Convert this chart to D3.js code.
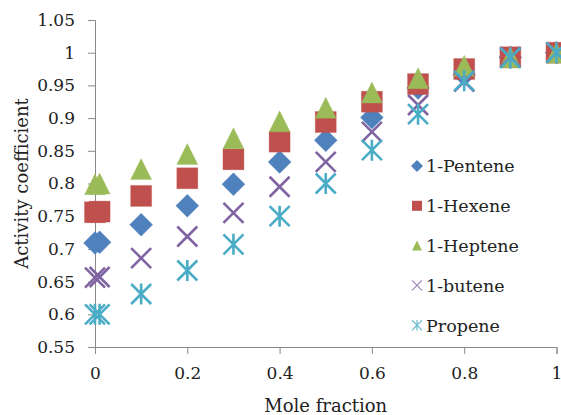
<!DOCTYPE html>
<html>
<head>
<meta charset="utf-8">
<script src="https://cdn.jsdelivr.net/npm/d3@7"></script>
<style>
  html, body { margin: 0; padding: 0; background: #fff; }
  svg { display: block; }
  text { font-family: "DejaVu Serif", serif; fill: #222; }
</style>
</head>
<body>
<svg id="chart" width="561" height="415"></svg>
<script>
// Mole fraction values (x) and activity coefficients per olefin
const moleFraction = [0, 0.01, 0.1, 0.2, 0.3, 0.4, 0.5, 0.6, 0.7, 0.8, 0.9, 1.0];
const pentene = [0.709, 0.710, 0.737, 0.766, 0.799, 0.833, 0.866, 0.901, 0.946, 0.966, 0.993, 1.0];
const hexene  = [0.756, 0.757, 0.781, 0.808, 0.837, 0.864, 0.894, 0.925, 0.952, 0.975, 0.993, 1.0];
const heptene = [0.799, 0.800, 0.822, 0.845, 0.869, 0.895, 0.916, 0.939, 0.961, 0.980, 0.993, 1.0];
const butene  = [0.656, 0.657, 0.686, 0.719, 0.755, 0.795, 0.833, 0.879, 0.920, 0.956, 0.993, 1.0];
const propene = [0.600, 0.600, 0.631, 0.667, 0.707, 0.750, 0.800, 0.851, 0.906, 0.957, 0.992, 1.0];

const seriesNames = ["1-Pentene", "1-Hexene", "1-Heptene", "1-butene", "Propene"];
const seriesValues = [pentene, hexene, heptene, butene, propene];
const seriesColors = ["#4F81BD", "#C0504D", "#9BBB59", "#8064A2", "#4BACC6"];
const seriesShapes = ["diamond", "square", "triangle", "cross", "star"];

const xTicks = [0, 0.2, 0.4, 0.6, 0.8, 1];
const yTicks = [0.55, 0.6, 0.65, 0.7, 0.75, 0.8, 0.85, 0.9, 0.95, 1, 1.05];

const svg = d3.select("#chart");
const x = d3.scaleLinear().domain([0, 1]).range([95, 556.5]);
const y = d3.scaleLinear().domain([0.55, 1.05]).range([347, 20]);

// Marker path for a given shape and size (s = full width)
function markerPath(shape, s) {
  const h = s / 2;
  switch (shape) {
    case "diamond": return `M0,${-h}L${h},0L0,${h}L${-h},0Z`;
    case "square": return `M${-h},${-h}H${h}V${h}H${-h}Z`;
    case "triangle": return `M0,${-h}L${h},${h}L${-h},${h}Z`;
    case "cross": return `M${-h},${-h}L${h},${h}M${h},${-h}L${-h},${h}`;
    case "star": return `M${-h},${-h}L${h},${h}M${h},${-h}L${-h},${h}M0,${-h * 1.05}V${h * 1.05}`;
  }
}
const filled = s => s === "diamond" || s === "square" || s === "triangle";
const plotSize = { diamond: 23, square: 21, triangle: 21, cross: 20, star: 20 };
const legendSize = { diamond: 12, square: 10, triangle: 10, cross: 10, star: 10 };

// Axes
const axisColor = "#8a8a8a";
const yAxis = svg.append("g")
  .attr("transform", `translate(${x(0)},0)`)
  .call(d3.axisLeft(y).tickValues(yTicks).tickSize(7).tickPadding(13)
    .tickFormat(d => d3.format("")(+d.toFixed(2))));
const xAxis = svg.append("g")
  .attr("transform", `translate(0,${y(0.55)})`)
  .call(d3.axisBottom(x).tickValues(xTicks).tickSize(7).tickPadding(13)
    .tickFormat(d => d3.format("")(+d.toFixed(1))));
[xAxis, yAxis].forEach(g => {
  g.select(".domain").attr("stroke", axisColor).attr("stroke-width", 1);
  g.selectAll(".tick line").attr("stroke", axisColor);
  g.selectAll(".tick text")
    .style("font-family", '"DejaVu Serif", serif')
    .style("font-size", "17px")
    .attr("fill", "#222");
  g.attr("font-family", null).attr("font-size", null);
});

// Data markers, series drawn in order
seriesValues.forEach((vals, i) => {
  const shape = seriesShapes[i];
  const color = seriesColors[i];
  svg.append("g").selectAll("path")
    .data(moleFraction.map((m, j) => [m, vals[j]]))
    .join("path")
    .attr("transform", d => `translate(${x(d[0])},${y(d[1])})`)
    .attr("d", markerPath(shape, plotSize[shape]))
    .attr("fill", filled(shape) ? color : "none")
    .attr("stroke", color)
    .attr("stroke-width", filled(shape) ? 0.6 : 2.6)
    .attr("stroke-opacity", filled(shape) ? 0.5 : 1);
});

// Legend
const legend = svg.append("g");
seriesNames.forEach((name, i) => {
  const cy = 166 + i * 39.8;
  const shape = seriesShapes[i];
  legend.append("path")
    .attr("transform", `translate(417,${cy})`)
    .attr("d", markerPath(shape, legendSize[shape]))
    .attr("fill", filled(shape) ? seriesColors[i] : "none")
    .attr("stroke", seriesColors[i])
    .attr("stroke-width", filled(shape) ? 0 : 1.3)
    .attr("stroke-opacity", filled(shape) ? 0 : 0.75);
  legend.append("text")
    .attr("x", 426)
    .attr("y", cy)
    .attr("dy", "0.36em")
    .style("font-size", "17.5px")
    .text(name);
});

// Axis titles
svg.append("text")
  .attr("x", (x(0) + x(1)) / 2)
  .attr("y", 412)
  .attr("text-anchor", "middle")
  .style("font-size", "18px")
  .text("Mole fraction");
svg.append("text")
  .attr("transform", `translate(28,${(y(0.55) + y(1.05)) / 2}) rotate(-90)`)
  .attr("text-anchor", "middle")
  .style("font-size", "18px")
  .text("Activity coefficient");
</script>
</body>
</html>
